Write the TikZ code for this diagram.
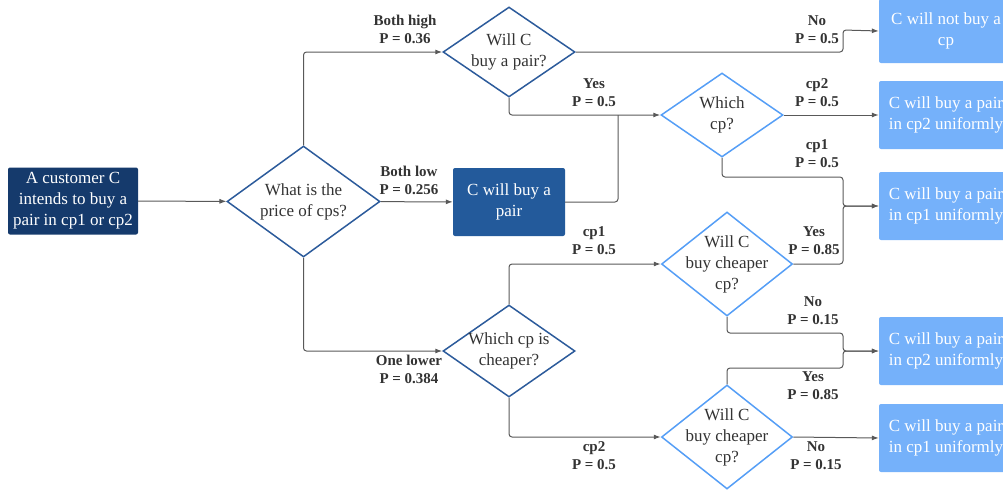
\documentclass[tikz,border=0pt]{standalone}
\usepackage{fontspec}
\setmainfont{Liberation Serif}
\usetikzlibrary{shapes.geometric,arrows.meta}
\definecolor{navy}{HTML}{153A6C}
\definecolor{midblue}{HTML}{235A9B}
\definecolor{lightbox}{HTML}{75B1FA}
\definecolor{darkline}{HTML}{2C5B9B}
\definecolor{lightline}{HTML}{559EF6}
\definecolor{conn}{HTML}{595959}
\definecolor{txt}{HTML}{333333}
\newcommand{\dtxt}[1]{\raisebox{-0.25em}[0pt][0pt]{\makebox[0pt]{\begin{tabular}{@{}c@{}}#1\end{tabular}}}}
\begin{document}
\begin{tikzpicture}[x=1pt,y=-1pt,
  base/.style={font=\fontsize{17}{21}\selectfont, align=center},
  darkbox/.style={base, fill=navy, text=white, rounded corners=2pt, minimum width=130pt, minimum height=67pt, inner sep=0pt},
  midbox/.style={base, fill=midblue, text=white, rounded corners=2pt, minimum width=112pt, minimum height=68pt, inner sep=0pt},
  endbox/.style={base, fill=lightbox, text=white, rounded corners=2pt, minimum width=134pt, minimum height=68pt, inner sep=0pt},
  ddia/.style={base, shape=diamond, draw=darkline, line width=1.5pt, text=txt, inner sep=0pt, aspect=1.3},
  ldia/.style={base, shape=diamond, draw=lightline, line width=1.5pt, text=txt, inner sep=0pt, aspect=1.3},
  lab/.style={font=\bfseries\fontsize{15}{18}\selectfont, align=center, text=txt, inner sep=0pt},
  arr/.style={draw=conn, line width=1pt, rounded corners=3pt, -{Latex[length=7pt,width=5pt]}},
  ln/.style={draw=conn, line width=1pt, rounded corners=3pt}
]
\useasboundingbox (0,0) rectangle (1003,493);
% nodes
\node[darkbox] (start) at (73,201) {A customer C\\intends to buy a\\pair in cp1 or cp2};
\node[ddia, minimum width=153pt, minimum height=111pt] (q1) at (303.5,201.5) {\dtxt{What is the\\price of cps?}};
\node[midbox] (buy) at (509,202) {C will buy a\\pair};
\node[ddia, minimum width=132pt, minimum height=90pt] (q2) at (509,52) {\dtxt{Will C\\buy a pair?}};
\node[ddia, minimum width=132pt, minimum height=92pt] (q3) at (509,351) {\dtxt{Which cp is\\cheaper?}};
\node[ldia, minimum width=122pt, minimum height=84pt] (q4) at (722,115) {\dtxt{Which\\cp?}};
\node[ldia, minimum width=131pt, minimum height=104pt] (q5) at (727,264) {\dtxt{Will C\\buy cheaper\\cp?}};
\node[ldia, minimum width=131pt, minimum height=104pt] (q6) at (727,437) {\dtxt{Will C\\buy cheaper\\cp?}};
\node[endbox, minimum height=64pt] (r1) at (946,31) {C will not buy a\\cp};
\node[endbox] (r2) at (946,115) {C will buy a pair\\in cp2 uniformly};
\node[endbox] (r3) at (946,206) {C will buy a pair\\in cp1 uniformly};
\node[endbox] (r4) at (946,351) {C will buy a pair\\in cp2 uniformly};
\node[endbox] (r5) at (946,438) {C will buy a pair\\in cp1 uniformly};
% junction coordinates
\coordinate (m1) at (618,115);
\coordinate (j1) at (843,30);
\coordinate (j2) at (843,177);
\coordinate (j3) at (843,206);
\coordinate (j4) at (843,333);
\coordinate (j5) at (843,368);
% connectors
\draw[arr] (start) -- (q1);
\draw[arr] (q1) -- (buy);
\draw[arr] (q1.north) |- (q2.west);
\draw[arr] (q1.south) |- (q3.west);
\draw[arr] (q2.east) -| (j1) -- (r1.west);
\draw[arr] (q2.south) |- (q4.west);
\draw[ln] (buy.east) -| (m1);
\draw[arr] (q4.east) -- (r2.west);
\draw[arr] (q4.south) |- (j2) |- (r3.west);
\draw[arr] (q5.east) -| (j3) -- (r3.west);
\draw[arr] (q5.south) |- (j4) |- (r4.west);
\draw[arr] (q6.north) |- (j5) |- (r4.west);
\draw[arr] (q6.east) -- (r5.west);
\draw[arr] (q3.north) |- (q5.west);
\draw[arr] (q3.south) |- (q6.west);
% labels
\node[lab] (l1) at (405,29) {Both high\\P = 0.36};
\node[lab] (l2) at (409,180) {Both low\\P = 0.256};
\node[lab] (l3) at (409,369) {One lower\\P = 0.384};
\node[lab] (l4) at (594,93) {Yes\\P = 0.5};
\node[lab] (l5) at (817,30) {No\\P = 0.5};
\node[lab] (l6) at (817,93) {cp2\\P = 0.5};
\node[lab] (l7) at (817,154) {cp1\\P = 0.5};
\node[lab] (l8) at (594,241) {cp1\\P = 0.5};
\node[lab] (l9) at (814,241) {Yes\\P = 0.85};
\node[lab] (l10) at (813,311) {No\\P = 0.15};
\node[lab] (l11) at (813,386) {Yes\\P = 0.85};
\node[lab] (l12) at (594,456) {cp2\\P = 0.5};
\node[lab] (l13) at (816,456) {No\\P = 0.15};
\end{tikzpicture}
\end{document}
